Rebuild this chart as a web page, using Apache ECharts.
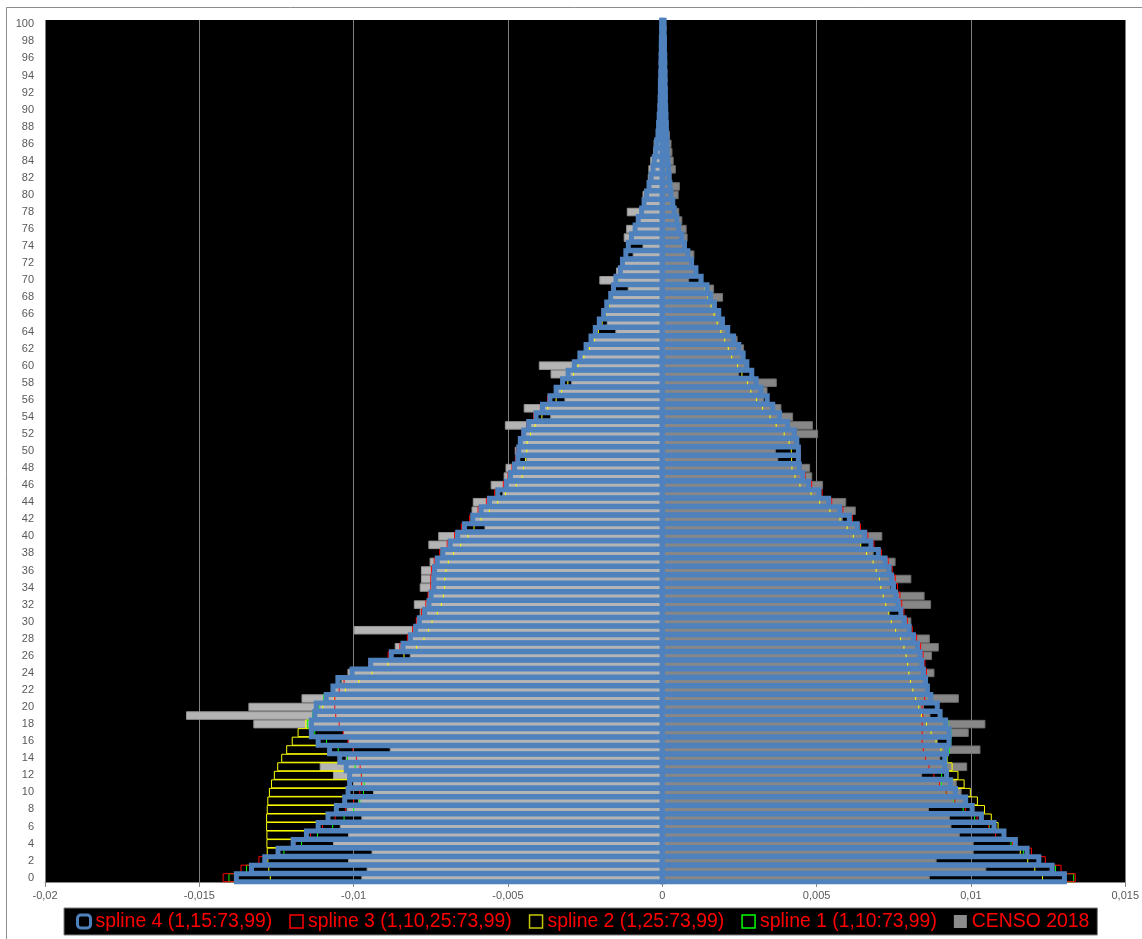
<!DOCTYPE html>
<html>
<head>
<meta charset="utf-8">
<script src="https://cdn.jsdelivr.net/npm/echarts@6/dist/echarts.min.js"></script>
<style>
  html, body { margin: 0; padding: 0; background: #fff; }
  #chart { width: 1142px; height: 939px; }
</style>
</head>
<body>
<div id="chart"></div>
<script>
// Single-year ages 0..100 (bottom to top)
const ages = [
  '0','1','2','3','4','5','6','7','8','9',
  '10','11','12','13','14','15','16','17','18','19',
  '20','21','22','23','24','25','26','27','28','29',
  '30','31','32','33','34','35','36','37','38','39',
  '40','41','42','43','44','45','46','47','48','49',
  '50','51','52','53','54','55','56','57','58','59',
  '60','61','62','63','64','65','66','67','68','69',
  '70','71','72','73','74','75','76','77','78','79',
  '80','81','82','83','84','85','86','87','88','89',
  '90','91','92','93','94','95','96','97','98','99',
  '100'
];

// Share of total population by age; men negative (left), women positive (right)
const censoMen = [
  -0.00975, -0.00958, -0.01018, -0.00942, -0.01067, -0.01018, -0.01045, -0.00975, -0.01023, -0.00986,
  -0.00937, -0.01002, -0.01067, -0.01110, -0.01026, -0.00883, -0.01018, -0.01034, -0.01325, -0.01543,
  -0.01341, -0.01169, -0.01070, -0.01040, -0.01020, -0.00950, -0.00818, -0.00867, -0.00824, -0.01000,
  -0.00797, -0.00786, -0.00805, -0.00759, -0.00786, -0.00782, -0.00782, -0.00754, -0.00718, -0.00758,
  -0.00726, -0.00576, -0.00620, -0.00618, -0.00614, -0.00518, -0.00556, -0.00514, -0.00508, -0.00441,
  -0.00478, -0.00462, -0.00455, -0.00510, -0.00363, -0.00449, -0.00317, -0.00350, -0.00295, -0.00362,
  -0.00400, -0.00270, -0.00250, -0.00232, -0.00152, -0.00180, -0.00192, -0.00182, -0.00170, -0.00112,
  -0.00204, -0.00150, -0.00134, -0.00096, -0.00064, -0.00125, -0.00117, -0.00080, -0.00115, -0.00060,
  -0.00064, -0.00045, -0.00047, -0.00045, -0.00039, -0.00030, -0.00028, -0.00020, -0.00017, -0.00012,
  -0.00012, -0.00010, -0.00008, -0.00006, -0.00005, -0.00004, -0.00003, -0.00002, -0.00002, -0.00001,
  -0.00001
];
const censoWomen = [
  0.00867, 0.01050, 0.00889, 0.01009, 0.01009, 0.00964, 0.00937, 0.00932, 0.00864, 0.00982,
  0.00970, 0.00954, 0.00842, 0.00988, 0.00901, 0.01031, 0.00893, 0.00993, 0.01047, 0.00869,
  0.00848, 0.00961, 0.00860, 0.00855, 0.00882, 0.00840, 0.00874, 0.00896, 0.00867, 0.00800,
  0.00807, 0.00736, 0.00871, 0.00850, 0.00740, 0.00807, 0.00730, 0.00756, 0.00685, 0.00643,
  0.00713, 0.00630, 0.00585, 0.00627, 0.00596, 0.00508, 0.00521, 0.00486, 0.00479, 0.00376,
  0.00368, 0.00430, 0.00505, 0.00488, 0.00424, 0.00386, 0.00330, 0.00341, 0.00371, 0.00249,
  0.00270, 0.00260, 0.00265, 0.00244, 0.00210, 0.00190, 0.00190, 0.00170, 0.00197, 0.00168,
  0.00087, 0.00110, 0.00100, 0.00104, 0.00070, 0.00082, 0.00079, 0.00065, 0.00055, 0.00035,
  0.00053, 0.00057, 0.00030, 0.00044, 0.00037, 0.00033, 0.00030, 0.00025, 0.00020, 0.00015,
  0.00014, 0.00012, 0.00010, 0.00009, 0.00008, 0.00007, 0.00006, 0.00005, 0.00004, 0.00004,
  0.00003
];

// spline 4 (knots 1,15:73,99)
const spline4Men = [
  -0.01380, -0.01331, -0.01288, -0.01245, -0.01196, -0.01153, -0.01115, -0.01083, -0.01056, -0.01029,
  -0.01018, -0.01013, -0.01013, -0.01024, -0.01045, -0.01078, -0.01115, -0.01137, -0.01137, -0.01126,
  -0.01121, -0.01089, -0.01067, -0.01051, -0.01005, -0.00945, -0.00878, -0.00840, -0.00816, -0.00799,
  -0.00787, -0.00770, -0.00756, -0.00749, -0.00740, -0.00740, -0.00738, -0.00729, -0.00711, -0.00687,
  -0.00663, -0.00641, -0.00614, -0.00587, -0.00560, -0.00533, -0.00505, -0.00492, -0.00479, -0.00468,
  -0.00465, -0.00460, -0.00449, -0.00433, -0.00409, -0.00388, -0.00364, -0.00344, -0.00323, -0.00305,
  -0.00285, -0.00267, -0.00247, -0.00231, -0.00217, -0.00204, -0.00190, -0.00180, -0.00167, -0.00158,
  -0.00150, -0.00136, -0.00129, -0.00118, -0.00110, -0.00100, -0.00088, -0.00078, -0.00067, -0.00059,
  -0.00051, -0.00043, -0.00036, -0.00030, -0.00026, -0.00021, -0.00018, -0.00014, -0.00012, -0.00010,
  -0.00008, -0.00007, -0.00006, -0.00006, -0.00005, -0.00004, -0.00004, -0.00003, -0.00003, -0.00002,
  -0.00002
];
const spline4Women = [
  0.01303, 0.01263, 0.01220, 0.01182, 0.01144, 0.01107, 0.01075, 0.01034, 0.01004, 0.00983,
  0.00950, 0.00934, 0.00921, 0.00915, 0.00915, 0.00921, 0.00929, 0.00929, 0.00918, 0.00900,
  0.00891, 0.00870, 0.00859, 0.00853, 0.00846, 0.00841, 0.00835, 0.00827, 0.00814, 0.00800,
  0.00784, 0.00773, 0.00764, 0.00756, 0.00749, 0.00743, 0.00735, 0.00722, 0.00700, 0.00676,
  0.00656, 0.00632, 0.00606, 0.00575, 0.00539, 0.00508, 0.00474, 0.00455, 0.00444, 0.00441,
  0.00441, 0.00436, 0.00428, 0.00406, 0.00380, 0.00358, 0.00340, 0.00320, 0.00304, 0.00290,
  0.00274, 0.00262, 0.00248, 0.00231, 0.00212, 0.00195, 0.00183, 0.00169, 0.00156, 0.00145,
  0.00126, 0.00109, 0.00095, 0.00083, 0.00072, 0.00063, 0.00053, 0.00047, 0.00039, 0.00034,
  0.00028, 0.00025, 0.00022, 0.00020, 0.00018, 0.00016, 0.00015, 0.00014, 0.00013, 0.00012,
  0.00011, 0.00010, 0.00010, 0.00009, 0.00009, 0.00008, 0.00008, 0.00007, 0.00007, 0.00006,
  0.00006
];

// spline 3 (knots 1,10,25:73,99)
const spline3Men = [
  -0.01423, -0.01365, -0.01307, -0.01250, -0.01190, -0.01140, -0.01101, -0.01060, -0.01027, -0.01000,
  -0.00980, -0.00974, -0.00975, -0.00979, -0.00991, -0.01002, -0.01018, -0.01034, -0.01047, -0.01058,
  -0.01061, -0.01061, -0.01047, -0.01031, -0.01010, -0.00952, -0.00888, -0.00850, -0.00826, -0.00809,
  -0.00797, -0.00780, -0.00766, -0.00759, -0.00750, -0.00750, -0.00748, -0.00739, -0.00721, -0.00697,
  -0.00673, -0.00651, -0.00624, -0.00597, -0.00570, -0.00543, -0.00515, -0.00500, -0.00487, -0.00476,
  -0.00472, -0.00466, -0.00455, -0.00440, -0.00417, -0.00395, -0.00372, -0.00344, -0.00323, -0.00305,
  -0.00285, -0.00267, -0.00247, -0.00231, -0.00217, -0.00204, -0.00190, -0.00180, -0.00167, -0.00158,
  -0.00150, -0.00136, -0.00129, -0.00118, -0.00110, -0.00100, -0.00088, -0.00078, -0.00067, -0.00059,
  -0.00051, -0.00043, -0.00036, -0.00030, -0.00026, -0.00021, -0.00018, -0.00014, -0.00012, -0.00010,
  -0.00008, -0.00007, -0.00006, -0.00006, -0.00005, -0.00004, -0.00004, -0.00003, -0.00003, -0.00002,
  -0.00002
];
const spline3Women = [
  0.01338, 0.01292, 0.01241, 0.01196, 0.01135, 0.01080, 0.01058, 0.01020, 0.00982, 0.00948,
  0.00920, 0.00898, 0.00880, 0.00864, 0.00853, 0.00846, 0.00842, 0.00842, 0.00842, 0.00844,
  0.00842, 0.00850, 0.00855, 0.00858, 0.00856, 0.00851, 0.00845, 0.00837, 0.00824, 0.00810,
  0.00794, 0.00783, 0.00776, 0.00770, 0.00762, 0.00755, 0.00745, 0.00732, 0.00710, 0.00686,
  0.00666, 0.00642, 0.00616, 0.00585, 0.00549, 0.00518, 0.00484, 0.00463, 0.00450, 0.00446,
  0.00446, 0.00441, 0.00433, 0.00411, 0.00385, 0.00362, 0.00343, 0.00320, 0.00304, 0.00290,
  0.00274, 0.00262, 0.00248, 0.00231, 0.00212, 0.00195, 0.00183, 0.00169, 0.00156, 0.00145,
  0.00126, 0.00109, 0.00095, 0.00083, 0.00072, 0.00063, 0.00053, 0.00047, 0.00039, 0.00034,
  0.00028, 0.00025, 0.00022, 0.00020, 0.00018, 0.00016, 0.00015, 0.00014, 0.00013, 0.00012,
  0.00011, 0.00010, 0.00010, 0.00009, 0.00009, 0.00008, 0.00008, 0.00007, 0.00007, 0.00006,
  0.00006
];

// spline 2 (knots 1,25:73,99)
const spline2Men = [
  -0.01270, -0.01275, -0.01278, -0.01280, -0.01281, -0.01281, -0.01282, -0.01282, -0.01280, -0.01278,
  -0.01273, -0.01266, -0.01257, -0.01246, -0.01233, -0.01217, -0.01199, -0.01180, -0.01155, -0.01130,
  -0.01100, -0.01063, -0.01027, -0.00983, -0.00940, -0.00889, -0.00837, -0.00796, -0.00772, -0.00758,
  -0.00746, -0.00729, -0.00716, -0.00709, -0.00705, -0.00705, -0.00701, -0.00693, -0.00676, -0.00653,
  -0.00630, -0.00610, -0.00587, -0.00560, -0.00533, -0.00508, -0.00473, -0.00454, -0.00449, -0.00443,
  -0.00439, -0.00438, -0.00427, -0.00412, -0.00390, -0.00371, -0.00344, -0.00326, -0.00306, -0.00288,
  -0.00273, -0.00254, -0.00236, -0.00220, -0.00207, -0.00195, -0.00183, -0.00172, -0.00161, -0.00152,
  -0.00143, -0.00133, -0.00126, -0.00116, -0.00108, -0.00098, -0.00087, -0.00077, -0.00066, -0.00058,
  -0.00050, -0.00042, -0.00035, -0.00030, -0.00026, -0.00021, -0.00018, -0.00014, -0.00012, -0.00010,
  -0.00008, -0.00007, -0.00006, -0.00006, -0.00005, -0.00004, -0.00004, -0.00003, -0.00003, -0.00002,
  -0.00002
];
const spline2Women = [
  0.01232, 0.01207, 0.01184, 0.01160, 0.01136, 0.01112, 0.01088, 0.01066, 0.01044, 0.01021,
  0.00998, 0.00978, 0.00958, 0.00939, 0.00923, 0.00903, 0.00887, 0.00871, 0.00856, 0.00840,
  0.00831, 0.00821, 0.00812, 0.00804, 0.00799, 0.00795, 0.00790, 0.00783, 0.00772, 0.00756,
  0.00742, 0.00734, 0.00724, 0.00716, 0.00708, 0.00704, 0.00693, 0.00683, 0.00662, 0.00643,
  0.00619, 0.00599, 0.00576, 0.00543, 0.00510, 0.00482, 0.00446, 0.00430, 0.00420, 0.00419,
  0.00418, 0.00411, 0.00395, 0.00369, 0.00349, 0.00325, 0.00305, 0.00287, 0.00276, 0.00258,
  0.00244, 0.00225, 0.00214, 0.00202, 0.00190, 0.00178, 0.00168, 0.00158, 0.00148, 0.00138,
  0.00120, 0.00105, 0.00092, 0.00081, 0.00071, 0.00062, 0.00053, 0.00047, 0.00039, 0.00034,
  0.00028, 0.00025, 0.00022, 0.00020, 0.00018, 0.00016, 0.00015, 0.00014, 0.00013, 0.00012,
  0.00011, 0.00010, 0.00010, 0.00009, 0.00009, 0.00008, 0.00008, 0.00007, 0.00007, 0.00006,
  0.00006
];

// spline 1 (knots 1,10:73,99)
const spline1Men = [
  -0.01404, -0.01347, -0.01290, -0.01226, -0.01169, -0.01117, -0.01068, -0.01031, -0.01000, -0.00980,
  -0.00968, -0.00966, -0.00974, -0.00995, -0.01020, -0.01050, -0.01088, -0.01126, -0.01149, -0.01133,
  -0.01112, -0.01097, -0.01070, -0.01045, -0.01010, -0.00950, -0.00883, -0.00845, -0.00821, -0.00804,
  -0.00792, -0.00775, -0.00761, -0.00754, -0.00745, -0.00745, -0.00743, -0.00734, -0.00716, -0.00692,
  -0.00668, -0.00646, -0.00619, -0.00592, -0.00565, -0.00538, -0.00510, -0.00492, -0.00479, -0.00468,
  -0.00465, -0.00460, -0.00449, -0.00433, -0.00409, -0.00388, -0.00364, -0.00344, -0.00323, -0.00305,
  -0.00285, -0.00267, -0.00247, -0.00231, -0.00217, -0.00204, -0.00190, -0.00180, -0.00167, -0.00158,
  -0.00150, -0.00136, -0.00129, -0.00118, -0.00110, -0.00100, -0.00088, -0.00078, -0.00067, -0.00059,
  -0.00051, -0.00043, -0.00036, -0.00030, -0.00026, -0.00021, -0.00018, -0.00014, -0.00012, -0.00010,
  -0.00008, -0.00007, -0.00006, -0.00006, -0.00005, -0.00004, -0.00004, -0.00003, -0.00003, -0.00002,
  -0.00002
];
const spline1Women = [
  0.01333, 0.01274, 0.01225, 0.01170, 0.01130, 0.01110, 0.01060, 0.01012, 0.00975, 0.00945,
  0.00920, 0.00905, 0.00905, 0.00912, 0.00922, 0.00930, 0.00935, 0.00935, 0.00925, 0.00905,
  0.00893, 0.00872, 0.00862, 0.00858, 0.00851, 0.00846, 0.00840, 0.00832, 0.00819, 0.00805,
  0.00789, 0.00778, 0.00769, 0.00761, 0.00754, 0.00748, 0.00740, 0.00727, 0.00705, 0.00681,
  0.00661, 0.00637, 0.00611, 0.00580, 0.00544, 0.00513, 0.00479, 0.00455, 0.00444, 0.00441,
  0.00441, 0.00436, 0.00428, 0.00406, 0.00380, 0.00358, 0.00340, 0.00320, 0.00304, 0.00290,
  0.00274, 0.00262, 0.00248, 0.00231, 0.00212, 0.00195, 0.00183, 0.00169, 0.00156, 0.00145,
  0.00126, 0.00109, 0.00095, 0.00083, 0.00072, 0.00063, 0.00053, 0.00047, 0.00039, 0.00034,
  0.00028, 0.00025, 0.00022, 0.00020, 0.00018, 0.00016, 0.00015, 0.00014, 0.00013, 0.00012,
  0.00011, 0.00010, 0.00010, 0.00009, 0.00009, 0.00008, 0.00008, 0.00007, 0.00007, 0.00006,
  0.00006
];

// Horizontal axis ticks and their labels (decimal comma)
const xTicks = [-0.02, -0.015, -0.01, -0.005, 0, 0.005, 0.01, 0.015];
const xTickLabels = ['-0,02', '-0,015', '-0,01', '-0,005', '0', '0,005', '0,01', '0,015'];

const S4 = 'spline 4 (1,15:73,99)';
const S3 = 'spline 3 (1,10,25:73,99)';
const S2 = 'spline 2 (1,25:73,99)';
const S1 = 'spline 1 (1,10:73,99)';
const CENSO = 'CENSO 2018';

const BLUE = '#4f81bd';
const RED = '#ff0000';
const YELLOW = '#ffff00';
const GREEN = '#00ff00';
const LABEL = '#595959';
const FONT = '"Liberation Sans", Arial, sans-serif';
const BAR_THICKNESS = 8;

// Outline-only bar: a hollow rectangle from 0 to the value, stroke centred on its edges
function outlineItem(color, lineWidth) {
  return function (params, api) {
    const v = api.value(0);
    const idx = api.value(1);
    const a = api.coord([0, idx]);
    const b = api.coord([v, idx]);
    return {
      type: 'rect',
      shape: {
        x: Math.min(a[0], b[0]),
        y: a[1] - BAR_THICKNESS / 2,
        width: Math.abs(b[0] - a[0]),
        height: BAR_THICKNESS
      },
      style: { fill: 'none', stroke: color, lineWidth: lineWidth }
    };
  };
}
function outlineSeries(name, values, color, lineWidth, z) {
  return {
    name: name, type: 'custom', silent: true, clip: false, z: z,
    coordinateSystem: 'cartesian2d', xAxisIndex: 0, yAxisIndex: 0,
    itemStyle: { color: color },
    renderItem: outlineItem(color, lineWidth),
    encode: { x: 0, y: 1 },
    data: values.map(function (v, i) { return [v, i]; })
  };
}
function censoBars(data, fill, border) {
  return {
    name: CENSO, type: 'bar', yAxisIndex: 0, stack: 'censo', data: data,
    barCategoryGap: '0%', silent: true, z: 2,
    itemStyle: { color: fill, borderColor: border, borderWidth: 1 }
  };
}

const chart = echarts.init(document.getElementById('chart'), null, { renderer: 'canvas' });

chart.setOption({
  animation: false,
  backgroundColor: '#ffffff',
  graphic: [{
    type: 'rect', silent: true, z: 100,
    shape: { x: 6.5, y: 7.5, width: 1200, height: 1000 },
    style: { fill: 'none', stroke: '#8c8c8c', lineWidth: 1 }
  }],
  grid: {
    left: 45, right: 16, top: 20, bottom: 57,
    show: true, backgroundColor: '#000000', borderWidth: 0
  },
  legend: {
    left: 64, top: 908,
    padding: [4, 8, 4, 12],
    itemGap: 17, itemWidth: 13, itemHeight: 13,
    backgroundColor: '#000000',
    borderColor: '#7f7f7f', borderWidth: 1,
    selectedMode: false,
    textStyle: { color: RED, fontSize: 19.4, fontFamily: FONT },
    data: [
      { name: S4, icon: 'roundRect', itemStyle: { color: '#000', borderColor: BLUE, borderWidth: 3 } },
      { name: S3, icon: 'rect', itemStyle: { color: '#000', borderColor: RED, borderWidth: 1.5 } },
      { name: S2, icon: 'rect', itemStyle: { color: '#000', borderColor: '#c8c800', borderWidth: 1.5 } },
      { name: S1, icon: 'rect', itemStyle: { color: '#000', borderColor: GREEN, borderWidth: 1.5 } },
      { name: CENSO, icon: 'rect', itemStyle: { color: '#8c8c8c', borderWidth: 0 } }
    ]
  },
  xAxis: {
    type: 'value',
    min: -0.02, max: 0.015, interval: 0.005,
    axisLine: { show: true, onZero: false, lineStyle: { color: '#868686' } },
    axisTick: { show: true, length: 5, lineStyle: { color: '#868686' } },
    splitLine: { show: true, lineStyle: { color: '#7f7f7f', width: 1 } },
    axisLabel: {
      color: LABEL, fontSize: 11, fontFamily: FONT, margin: 8,
      formatter: function (v) {
        const i = xTicks.findIndex(function (t) { return Math.abs(t - v) < 1e-9; });
        return i >= 0 ? xTickLabels[i] : '';
      }
    }
  },
  yAxis: [
    {
      type: 'category', data: ages, position: 'left',
      axisLine: { show: false, onZero: false },
      axisTick: { show: false },
      splitLine: { show: false },
      axisLabel: { interval: 1, color: LABEL, fontSize: 11, fontFamily: FONT, margin: 11 }
    },
    {
      type: 'category', data: ages, position: 'left',
      axisLine: { show: true, onZero: true, lineStyle: { color: '#868686' } },
      axisTick: { show: true, length: 3, lineStyle: { color: '#868686' } },
      axisLabel: { show: false },
      splitLine: { show: false }
    }
  ],
  series: [
    censoBars(censoMen, '#b4b4b4', '#969696'),
    censoBars(censoWomen, '#878787', '#6e6e6e'),
    outlineSeries(S2, spline2Men, YELLOW, 1, 3),
    outlineSeries(S2, spline2Women, YELLOW, 1, 3),
    outlineSeries(S1, spline1Men, GREEN, 1, 4),
    outlineSeries(S1, spline1Women, GREEN, 1, 4),
    outlineSeries(S3, spline3Men, RED, 1, 5),
    outlineSeries(S3, spline3Women, RED, 1, 5),
    outlineSeries(S4, spline4Men, BLUE, 5, 6),
    outlineSeries(S4, spline4Women, BLUE, 5, 6)
  ]
});
</script>
</body>
</html>
